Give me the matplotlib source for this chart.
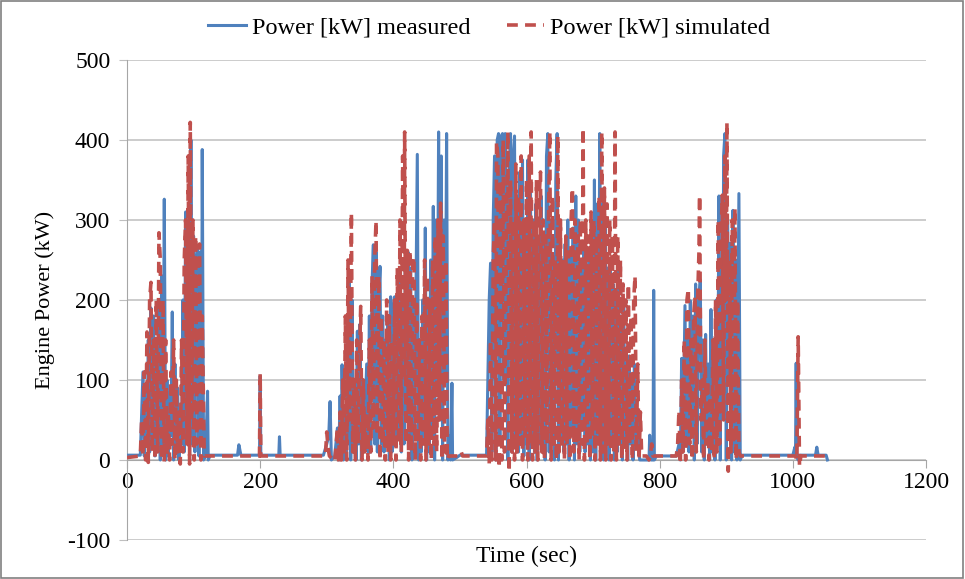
import matplotlib
matplotlib.use("Agg")
import matplotlib.pyplot as plt
from matplotlib.patches import Rectangle

plt.rcParams['font.family'] = ['Liberation Serif', 'DejaVu Serif']
plt.rcParams['axes.unicode_minus'] = False

# Measured engine power: (time s, power kW)
measured = [
    (0, 6), (20, 6), (22, 60), (24, 110), (26, 5), (28, 90), (30, 20), (32, 150), (34, 10), (36, 190), (38, 30),
    (40, 180), (42, 5), (44, 140), (46, 20), (48, 190), (50, 0), (52, 230), (54, 10), (56, 326), (58, 0), (60, 100),
    (62, 5), (64, 84), (66, 30), (68, 185), (70, 0), (72, 120), (74, 10), (76, 90), (78, 0), (80, 60), (82, 20),
    (84, 200), (86, 10), (88, 310), (90, 40), (92, 300), (94, 0), (96, 400), (98, 20), (100, 280), (102, 10),
    (104, 250), (106, 268), (108, 5), (110, 260), (112, 20), (113, 388), (115, 0), (118, 5), (121, 86), (122, 0),
    (125, 6), (166, 6), (168, 19), (169, 15), (171, 6), (199, 6), (200, 105), (201, 6), (228, 6), (229, 29),
    (230, 6), (295, 6), (300, 20), (303, 30), (305, 73), (307, 0), (312, 5), (316, 40), (318, 0), (320, 80),
    (322, 10), (323, 119), (325, 0), (327, 60), (329, 10), (331, 150), (333, 20), (334, 221), (336, 0), (338, 200),
    (340, 10), (342, 100), (344, 0), (346, 161), (348, 20), (350, 170), (352, 0), (354, 80), (356, 20), (360, 120),
    (362, 10), (364, 180), (366, 10), (368, 220), (370, 269), (372, 20), (374, 260), (376, 10), (378, 200),
    (380, 242), (382, 20), (384, 180), (386, 10), (388, 150), (390, 30), (392, 180), (394, 0), (396, 204),
    (398, 10), (400, 190), (402, 204), (404, 20), (406, 160), (408, 30), (410, 225), (412, 10), (414, 200),
    (416, 20), (418, 250), (420, 50), (422, 260), (424, 20), (426, 240), (428, 0), (430, 200), (432, 30),
    (434, 200), (436, 382), (438, 0), (440, 150), (442, 10), (444, 200), (446, 20), (448, 290), (450, 0),
    (452, 200), (454, 10), (456, 250), (458, 30), (460, 317), (462, 0), (464, 300), (466, 100), (468, 410),
    (470, 50), (472, 380), (474, 0), (476, 300), (478, 100), (480, 408), (482, 0), (484, 30), (486, 0), (488, 96),
    (489, 0), (495, 3), (500, 6), (540, 6), (542, 100), (544, 200), (546, 246), (548, 10), (550, 300), (552, 380),
    (554, 0), (556, 400), (558, 408), (560, 20), (562, 405), (564, 408), (566, 100), (568, 408), (570, 300),
    (572, 0), (574, 350), (576, 408), (578, 10), (580, 380), (582, 405), (584, 20), (586, 330), (588, 10),
    (590, 360), (592, 20), (594, 375), (596, 5), (598, 300), (600, 20), (602, 375), (604, 0), (606, 340),
    (608, 30), (610, 300), (612, 10), (614, 320), (616, 0), (618, 280), (620, 20), (622, 330), (624, 10),
    (626, 280), (628, 0), (630, 380), (632, 408), (634, 10), (636, 300), (638, 20), (640, 250), (642, 0),
    (644, 350), (646, 408), (648, 0), (650, 280), (652, 30), (654, 250), (656, 10), (658, 270), (660, 20),
    (662, 300), (664, 0), (666, 260), (668, 30), (670, 290), (672, 0), (674, 330), (676, 20), (678, 300),
    (680, 10), (682, 250), (684, 40), (686, 270), (688, 10), (690, 240), (692, 20), (694, 260), (696, 0),
    (698, 280), (700, 10), (702, 350), (704, 0), (706, 320), (708, 30), (710, 408), (712, 100), (714, 320),
    (716, 0), (718, 300), (720, 20), (722, 240), (724, 0), (726, 250), (728, 30), (730, 220), (732, 0),
    (734, 200), (736, 10), (738, 240), (740, 20), (742, 180), (744, 0), (746, 200), (748, 20), (750, 120),
    (752, 0), (754, 130), (756, 20), (758, 100), (760, 0), (762, 120), (764, 30), (766, 60), (770, 0), (784, 0),
    (785, 31), (787, 0), (790, 0), (791, 212), (792, 0), (795, 5), (825, 5), (829, 20), (831, 0), (833, 127),
    (835, 10), (838, 193), (840, 20), (842, 150), (844, 10), (846, 199), (848, 30), (850, 180), (852, 0),
    (854, 220), (856, 20), (858, 190), (861, 225), (863, 10), (865, 150), (867, 0), (869, 157), (871, 20),
    (873, 120), (875, 0), (877, 188), (879, 10), (881, 150), (883, 0), (885, 200), (887, 30), (889, 330),
    (891, 0), (893, 250), (895, 100), (896, 380), (898, 408), (900, 0), (902, 300), (904, 100), (906, 271),
    (908, 0), (910, 312), (912, 10), (914, 250), (916, 0), (919, 333), (921, 0), (924, 6), (1000, 6), (1003, 16),
    (1004, 5), (1005, 121), (1006, 5), (1008, 0), (1010, 6), (1034, 6), (1036, 16), (1038, 6), (1050, 6), (1052, 0),
]

# Simulated engine power: (time s, power kW)
simulated = [
    (0, 3), (20, 5), (22, 50), (24, 5), (26, 110), (28, 0), (30, 160), (32, -3), (34, 200), (36, 222), (38, 10),
    (40, 150), (42, 0), (44, 200), (46, 10), (48, 284), (50, 250), (52, 0), (54, 200), (56, -2), (58, 150), (60, 10),
    (62, 60), (64, 0), (66, 110), (68, 20), (70, 150), (72, 0), (74, 100), (76, 10), (78, 60), (80, -5), (82, 150),
    (84, 10), (86, 250), (88, 300), (90, 20), (92, 380), (94, -5), (95, 422), (97, 50), (99, 300), (101, 0),
    (103, 280), (105, 20), (107, 250), (109, 270), (111, 0), (113, 180), (116, 5), (199, 5), (200, 108), (201, 5),
    (298, 5), (300, 35), (302, 15), (304, 5), (312, -2), (316, 40), (318, -3), (320, 60), (322, 0), (324, 100),
    (326, 5), (328, 180), (330, 0), (332, 250), (334, 50), (336, 200), (337, 309), (339, 10), (341, 100), (343, 0),
    (345, 150), (347, 20), (349, 120), (351, 192), (353, 0), (355, 100), (357, 10), (360, 60), (362, 0), (364, 150),
    (366, 10), (368, 230), (370, 40), (372, 250), (374, 299), (376, 30), (378, 230), (380, 0), (382, 180), (384, 20),
    (386, 150), (388, 0), (390, 200), (392, 10), (394, 180), (396, 0), (398, 150), (400, 20), (402, 200), (404, 0),
    (406, 240), (408, 20), (410, 300), (412, 10), (414, 380), (416, 100), (417, 410), (419, 20), (421, 262),
    (423, 0), (425, 262), (427, 10), (429, 240), (431, 254), (433, 0), (435, 200), (437, 20), (439, 150), (441, 0),
    (443, 180), (445, 20), (447, 250), (449, 0), (451, 230), (453, 20), (455, 200), (457, 0), (459, 250), (461, 20),
    (463, 280), (465, 10), (467, 300), (469, 50), (471, 321), (473, 0), (475, 280), (477, 10), (479, 250), (481, 0),
    (483, 5), (500, 5), (502, 10), (504, 5), (540, 5), (542, 50), (544, -5), (546, 150), (548, 0), (550, 250),
    (552, 300), (554, 0), (555, 398), (557, 380), (559, -10), (561, 350), (563, 0), (565, 400), (567, 10), (570, 300),
    (572, 410), (574, -15), (576, 350), (578, 10), (580, 300), (582, 0), (584, 370), (586, 10), (588, 330), (590, 20),
    (592, 380), (594, 0), (596, 300), (598, 30), (600, 350), (602, 0), (604, 380), (606, 20), (607, 410), (609, 0),
    (611, 300), (613, 10), (615, 350), (617, 0), (619, 330), (621, 360), (623, 10), (625, 300), (627, 0), (629, 280),
    (631, 20), (633, 300), (635, 410), (637, 0), (639, 330), (641, 20), (643, 250), (645, 0), (647, 405), (649, 10),
    (651, 300), (653, 20), (655, 250), (657, 0), (659, 280), (661, 20), (663, 260), (665, 0), (667, 300), (669, 340),
    (671, 10), (673, 300), (675, 20), (677, 280), (679, 0), (681, 300), (683, 20), (685, 415), (687, 0), (689, 300),
    (691, 20), (693, 280), (695, 0), (697, 310), (699, 30), (701, 300), (703, 0), (705, 280), (707, 20), (709, 330),
    (711, 0), (713, 410), (715, 10), (717, 340), (719, 0), (721, 320), (723, 20), (725, 300), (727, 0), (729, 280),
    (731, 10), (733, 410), (735, 0), (737, 280), (739, 20), (741, 250), (743, 0), (745, 220), (747, 10), (749, 200),
    (751, 0), (753, 220), (755, 20), (757, 180), (759, 0), (761, 200), (763, 230), (765, 10), (767, 120), (769, 0),
    (771, 60), (773, 5), (780, 5), (784, 0), (786, 5), (788, 20), (790, 5), (825, 5), (827, 20), (829, 62),
    (831, -5), (833, 100), (835, 10), (837, 150), (839, 0), (841, 200), (843, 214), (845, 20), (847, 150), (849, 0),
    (851, 180), (853, 205), (855, 10), (857, 200), (859, 260), (860, 331), (862, 50), (864, 100), (866, 0),
    (868, 150), (870, 20), (872, 100), (874, 0), (876, 80), (878, 10), (880, 150), (882, 0), (884, 200), (886, 10),
    (888, 300), (890, 20), (892, 280), (894, 331), (896, 50), (898, 380), (900, 200), (901, 422), (903, -14),
    (905, 250), (907, 10), (909, 300), (911, 20), (913, 315), (915, 0), (917, 200), (919, 10), (921, 5), (1004, 5),
    (1006, 0), (1008, 154), (1010, -8), (1012, 5), (1050, 5), (1053, 0),
]

meas_t = [p[0] for p in measured]
meas_p = [p[1] for p in measured]
sim_t = [p[0] for p in simulated]
sim_p = [p[1] for p in simulated]

x_ticks = [0, 200, 400, 600, 800, 1000, 1200]
y_ticks = [-100, 0, 100, 200, 300, 400, 500]

fig = plt.figure(figsize=(9.65, 5.79), dpi=100)
ax = fig.add_axes([0.1316, 0.0674, 0.828, 0.829])

ax.plot(meas_t, meas_p, color='#4F81BD', lw=2.2, label='Power [kW] measured', zorder=3)
ax.plot(sim_t, sim_p, color='#C0504D', lw=2.6, ls=(0, (3, 2)), label='Power [kW] simulated', zorder=4)

ax.set_xlim(0, 1200)
ax.set_ylim(-100, 500)
ax.set_xticks(x_ticks)
ax.set_yticks(y_ticks)
ax.grid(axis='y', color='#BFBFBF', lw=1.1, zorder=0)
ax.set_axisbelow(True)

for s in ['top', 'right']:
    ax.spines[s].set_visible(False)
ax.spines['bottom'].set_position(('data', 0))
ax.spines['bottom'].set_color('#A6A6A6')
ax.spines['left'].set_color('#A6A6A6')
ax.tick_params(axis='x', direction='out', length=6, color='#A6A6A6', labelsize=17, pad=3)
ax.tick_params(axis='y', direction='out', length=6, color='#BFBFBF', labelsize=17, pad=6)

ax.set_xlabel('Time (sec)', fontsize=17)
ax.xaxis.set_label_coords(0.5, -0.012)
ax.set_ylabel('Engine Power (kW)', fontsize=16)
ax.yaxis.set_label_coords(-0.09, 0.5)

fig.legend(handles=ax.get_lines(), loc='center', bbox_to_anchor=(0.507, 0.953), ncol=2, frameon=False,
           fontsize=17.5, handlelength=1.55, handletextpad=0.25, columnspacing=1.5, borderaxespad=0.0)

fig.patches.append(Rectangle((0.001, 0.001), 0.997, 0.997, transform=fig.transFigure,
                             fill=False, edgecolor='#808080', lw=1.2))

fig.savefig('out.png', dpi=100)
